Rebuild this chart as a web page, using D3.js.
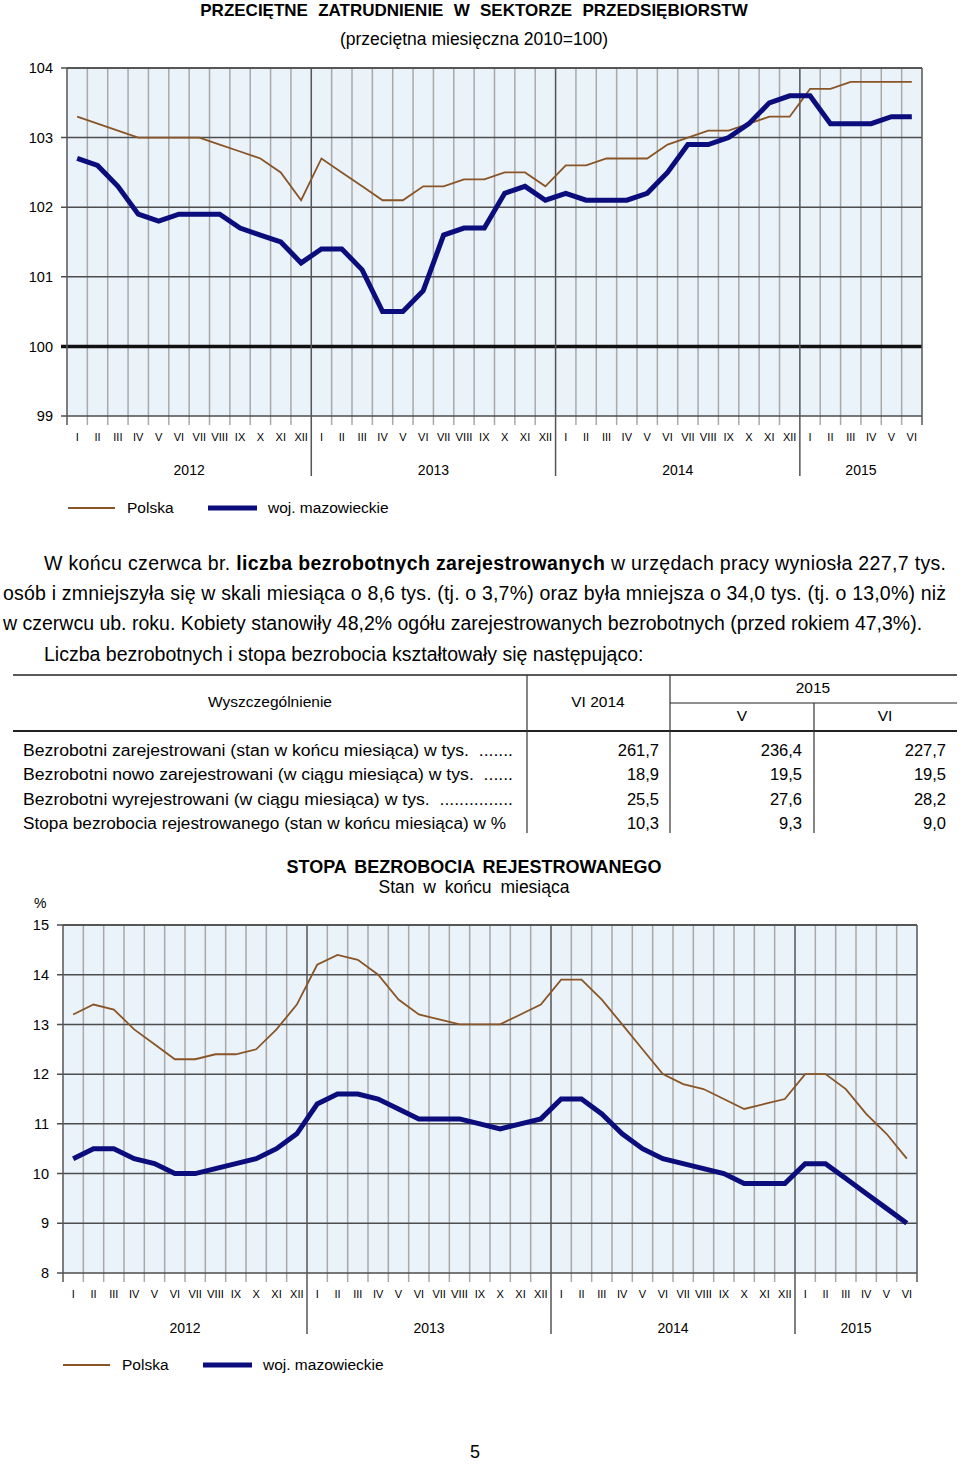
<!DOCTYPE html>
<html lang="pl">
<head>
<meta charset="UTF-8">
<title>Zatrudnienie i bezrobocie</title>
<script src="https://d3js.org/d3.v7.min.js"></script>
<style>
  body { margin: 0; background: #fff; font-family: Arial, "Liberation Sans", sans-serif; }
  svg text { fill: #000; }
</style>
</head>
<body>
<svg id="page" width="960" height="1464"></svg>
<script>
// months and years on the x axis
const monthNames = ["I", "II", "III", "IV", "V", "VI", "VII", "VIII", "IX", "X", "XI", "XII"];
const years = [2012, 2013, 2014, 2015];
const monthsPerYear = [12, 12, 12, 6];

// average employment, 2010 = 100
const empTicks = [99, 100, 101, 102, 103, 104];
const empPolska = [
  103.3, 103.2, 103.1, 103.0, 103.0, 103.0, 103.0, 102.9, 102.8, 102.7, 102.5, 102.1,
  102.7, 102.5, 102.3, 102.1, 102.1, 102.3, 102.3, 102.4, 102.4, 102.5, 102.5, 102.3,
  102.6, 102.6, 102.7, 102.7, 102.7, 102.9, 103.0, 103.1, 103.1, 103.2, 103.3, 103.3,
  103.7, 103.7, 103.8, 103.8, 103.8, 103.8
];
const empMazowieckie = [
  102.7, 102.6, 102.3, 101.9, 101.8, 101.9, 101.9, 101.9, 101.7, 101.6, 101.5, 101.2,
  101.4, 101.4, 101.1, 100.5, 100.5, 100.8, 101.6, 101.7, 101.7, 102.2, 102.3, 102.1,
  102.2, 102.1, 102.1, 102.1, 102.2, 102.5, 102.9, 102.9, 103.0, 103.2, 103.5, 103.6,
  103.6, 103.2, 103.2, 103.2, 103.3, 103.3
];

// registered unemployment rate, %
const rateTicks = [8, 9, 10, 11, 12, 13, 14, 15];
const ratePolska = [
  13.2, 13.4, 13.3, 12.9, 12.6, 12.3, 12.3, 12.4, 12.4, 12.5, 12.9, 13.4,
  14.2, 14.4, 14.3, 14.0, 13.5, 13.2, 13.1, 13.0, 13.0, 13.0, 13.2, 13.4,
  13.9, 13.9, 13.5, 13.0, 12.5, 12.0, 11.8, 11.7, 11.5, 11.3, 11.4, 11.5,
  12.0, 12.0, 11.7, 11.2, 10.8, 10.3
];
const rateMazowieckie = [
  10.3, 10.5, 10.5, 10.3, 10.2, 10.0, 10.0, 10.1, 10.2, 10.3, 10.5, 10.8,
  11.4, 11.6, 11.6, 11.5, 11.3, 11.1, 11.1, 11.1, 11.0, 10.9, 11.0, 11.1,
  11.5, 11.5, 11.2, 10.8, 10.5, 10.3, 10.2, 10.1, 10.0, 9.8, 9.8, 9.8,
  10.2, 10.2, 9.9, 9.6, 9.3, 9.0
];

const seriesNames = ["Polska", "woj. mazowieckie"];

// table
const tableRows = [
  "Bezrobotni zarejestrowani (stan w końcu miesiąca) w tys.  .......",
  "Bezrobotni nowo zarejestrowani (w ciągu miesiąca) w tys.  ......",
  "Bezrobotni wyrejestrowani (w ciągu miesiąca) w tys.  ...............",
  "Stopa bezrobocia rejestrowanego (stan w końcu miesiąca) w %"
];
const colVI2014 = ["261,7", "18,9", "25,5", "10,3"];
const colV2015 = ["236,4", "19,5", "27,6", "9,3"];
const colVI2015 = ["227,7", "19,5", "28,2", "9,0"];

const BROWN = "#8a5526";
const NAVY = "#0b0d7c";
const BG = "#eaf2fa";

const svg = d3.select("#page");

// list of periods (year index + month index)
const periods = [];
years.forEach((yr, yi) => {
  d3.range(monthsPerYear[yi]).forEach(m => periods.push({ yi: yi, m: m }));
});

function drawChart(o) {
  const g = svg.append("g");
  const x = d3.scaleBand().domain(d3.range(periods.length)).range([o.left, o.right]);
  const y = d3.scaleLinear().domain(d3.extent(o.ticks)).range([o.bottom, o.top]);
  const cx = i => x(i) + x.bandwidth() / 2;

  g.append("rect")
    .attr("x", o.left).attr("y", o.top)
    .attr("width", o.right - o.left).attr("height", o.bottom - o.top)
    .attr("fill", BG);

  // year boundaries
  const yearStarts = [];
  let acc = 0;
  monthsPerYear.forEach(n => { yearStarts.push(acc); acc += n; });

  // vertical month grid
  const bounds = d3.range(1, periods.length);
  g.selectAll(".vgrid").data(bounds.filter(b => !yearStarts.includes(b)))
    .join("line")
    .attr("x1", b => x(b)).attr("x2", b => x(b))
    .attr("y1", o.top).attr("y2", o.bottom + 9)
    .attr("stroke", "#a9a9a9").attr("stroke-width", 1.5);

  // horizontal grid
  g.selectAll(".hgrid").data(o.ticks)
    .join("line")
    .attr("x1", o.left - 6).attr("x2", o.right)
    .attr("y1", d => y(d)).attr("y2", d => y(d))
    .attr("stroke", d => d === o.baseline ? "#111" : "#4d4d4d")
    .attr("stroke-width", d => d === o.baseline ? 3.5 : 1.5);

  // year separators
  g.selectAll(".ysep").data(yearStarts.slice(1))
    .join("line")
    .attr("x1", b => x(b)).attr("x2", b => x(b))
    .attr("y1", o.top).attr("y2", o.yearLineEnd)
    .attr("stroke", "#555").attr("stroke-width", 1.5);

  // plot borders
  g.append("line").attr("x1", o.left).attr("x2", o.left)
    .attr("y1", o.top).attr("y2", o.bottom + 9)
    .attr("stroke", "#555").attr("stroke-width", 1.5);
  g.append("line").attr("x1", o.right).attr("x2", o.right)
    .attr("y1", o.top).attr("y2", o.bottom + 9)
    .attr("stroke", "#555").attr("stroke-width", 1.5);

  // y labels
  const yAxis = g.append("g")
    .attr("transform", `translate(${o.left},0)`)
    .call(d3.axisLeft(y).tickValues(o.ticks).tickSize(0).tickPadding(o.labelPad).tickFormat(d3.format("d")));
  yAxis.select(".domain").remove();
  yAxis.selectAll("text")
    .style("font-family", "Arial, 'Liberation Sans', sans-serif")
    .style("font-size", "14.5px").attr("fill", "#000");

  // month labels
  g.selectAll(".mlab").data(periods)
    .join("text")
    .attr("x", (d, i) => cx(i)).attr("y", o.monthY)
    .attr("text-anchor", "middle")
    .style("font-size", "11px")
    .attr("fill", "#222")
    .each(function(d) {
      const t = monthNames[d.m];
      d3.select(this).text(t);
      if (t.length >= 4) d3.select(this).attr("textLength", 17).attr("lengthAdjust", "spacingAndGlyphs");
    });

  // year labels
  g.selectAll(".ylab").data(years)
    .join("text")
    .attr("x", (d, i) => {
      const a = x(yearStarts[i]);
      const b = i + 1 < years.length ? x(yearStarts[i + 1]) : o.right;
      return (a + b) / 2;
    })
    .attr("y", o.yearY)
    .attr("text-anchor", "middle")
    .style("font-size", "14px")
    .attr("fill", "#222")
    .text(d => d);

  const line = d3.line().x((d, i) => cx(i)).y(d => y(d));
  g.append("path").datum(o.polska)
    .attr("d", line).attr("fill", "none")
    .attr("stroke", BROWN).attr("stroke-width", 1.8).attr("stroke-linejoin", "miter");
  g.append("path").datum(o.maz)
    .attr("d", line).attr("fill", "none")
    .attr("stroke", NAVY).attr("stroke-width", 5).attr("stroke-linejoin", "miter");

  // top border
  g.append("line").attr("x1", o.left).attr("x2", o.right)
    .attr("y1", o.top).attr("y2", o.top)
    .attr("stroke", "#4d4d4d").attr("stroke-width", 1.5);

  // legend
  const lg = g.append("g");
  lg.append("line").attr("x1", o.legendX).attr("x2", o.legendX + 47)
    .attr("y1", o.legendY).attr("y2", o.legendY)
    .attr("stroke", BROWN).attr("stroke-width", 2);
  lg.append("text").attr("x", o.legendX + 59).attr("y", o.legendY + 5)
    .style("font-size", "15.5px").attr("fill", "#222").text(seriesNames[0]);
  lg.append("line").attr("x1", o.legendX + 140).attr("x2", o.legendX + 189)
    .attr("y1", o.legendY).attr("y2", o.legendY)
    .attr("stroke", NAVY).attr("stroke-width", 5);
  lg.append("text").attr("x", o.legendX + 200).attr("y", o.legendY + 5)
    .style("font-size", "15.5px").attr("fill", "#222").text(seriesNames[1]);
}

// ---- top chart
svg.append("text").attr("x", 474).attr("y", 16)
  .attr("text-anchor", "middle").style("font-size", "17px").style("font-weight", "bold")
  .style("word-spacing", "5.5px")
  .text("PRZECIĘTNE ZATRUDNIENIE W SEKTORZE PRZEDSIĘBIORSTW");
svg.append("text").attr("x", 474).attr("y", 45)
  .attr("text-anchor", "middle").style("font-size", "17.5px")
  .text("(przeciętna miesięczna 2010=100)");

drawChart({
  left: 67, right: 922, top: 68, bottom: 416,
  ticks: empTicks, baseline: 100, labelPad: 14,
  polska: empPolska, maz: empMazowieckie,
  monthY: 441, yearY: 475, yearLineEnd: 476,
  legendX: 68, legendY: 508
});

// ---- paragraph
const para = svg.append("g").style("font-size", "19.5px");
const l1 = para.append("text").attr("x", 44).attr("y", 570)
  .attr("textLength", 902).attr("lengthAdjust", "spacing");
l1.append("tspan").text("W końcu czerwca br. ");
l1.append("tspan").style("font-weight", "bold").text("liczba bezrobotnych zarejestrowanych");
l1.append("tspan").text(" w urzędach pracy wyniosła 227,7 tys.");
para.append("text").attr("x", 3).attr("y", 600)
  .attr("textLength", 943).attr("lengthAdjust", "spacing")
  .text("osób i zmniejszyła się w skali miesiąca o 8,6 tys. (tj. o 3,7%) oraz była mniejsza o 34,0 tys. (tj. o 13,0%) niż");
para.append("text").attr("x", 3).attr("y", 630)
  .text("w czerwcu ub. roku. Kobiety stanowiły 48,2% ogółu zarejestrowanych bezrobotnych (przed rokiem 47,3%).");
para.append("text").attr("x", 44).attr("y", 661)
  .text("Liczba bezrobotnych i stopa bezrobocia kształtowały się następująco:");

// ---- table
const tb = svg.append("g");
const hl = (x1, x2, yy, w) => tb.append("line").attr("x1", x1).attr("x2", x2)
  .attr("y1", yy).attr("y2", yy).attr("stroke", "#222").attr("stroke-width", w);
const vl = (xx, y1, y2) => tb.append("line").attr("x1", xx).attr("x2", xx)
  .attr("y1", y1).attr("y2", y2).attr("stroke", "#333").attr("stroke-width", 1.2);
hl(13, 957, 675, 1.5);
hl(670, 957, 703, 1.2);
hl(13, 957, 731, 2.2);
vl(527, 675, 833);
vl(670, 675, 833);
vl(814, 703, 833);

const th = (xx, yy, t) => tb.append("text").attr("x", xx).attr("y", yy)
  .attr("text-anchor", "middle").style("font-size", "15.5px").text(t);
th(270, 707, "Wyszczególnienie");
th(598, 707, "VI 2014");
th(813, 693, "2015");
th(742, 721, "V");
th(885, 721, "VI");

const rowY = [756, 780, 805, 829];
tb.selectAll(".rl").data(tableRows).join("text")
  .attr("x", 23).attr("y", (d, i) => rowY[i])
  .style("font-size", "16px").style("white-space", "pre")
  .attr("textLength", (d, i) => [490, 490, 490, 483][i]).attr("lengthAdjust", "spacingAndGlyphs")
  .text(d => d);
[[colVI2014, 659], [colV2015, 802], [colVI2015, 946]].forEach(([col, xr]) => {
  tb.selectAll(null).data(col).join("text")
    .attr("x", xr).attr("y", (d, i) => rowY[i])
    .attr("text-anchor", "end").style("font-size", "16.5px")
    .text(d => d);
});

// ---- bottom chart
svg.append("text").attr("x", 474).attr("y", 873)
  .attr("text-anchor", "middle").style("font-size", "18px").style("font-weight", "bold")
  .style("word-spacing", "3px")
  .text("STOPA BEZROBOCIA REJESTROWANEGO");
svg.append("text").attr("x", 474).attr("y", 893)
  .attr("text-anchor", "middle").style("font-size", "17.5px")
  .style("word-spacing", "4px")
  .text("Stan w końcu miesiąca");
svg.append("text").attr("x", 34).attr("y", 908).style("font-size", "14px").text("%");

drawChart({
  left: 63, right: 917, top: 925, bottom: 1273,
  ticks: rateTicks, baseline: null, labelPad: 14,
  polska: ratePolska, maz: rateMazowieckie,
  monthY: 1298, yearY: 1333, yearLineEnd: 1334,
  legendX: 63, legendY: 1365
});

svg.append("text").attr("x", 475).attr("y", 1458)
  .attr("text-anchor", "middle").style("font-size", "18px").text("5");
</script>
</body>
</html>
